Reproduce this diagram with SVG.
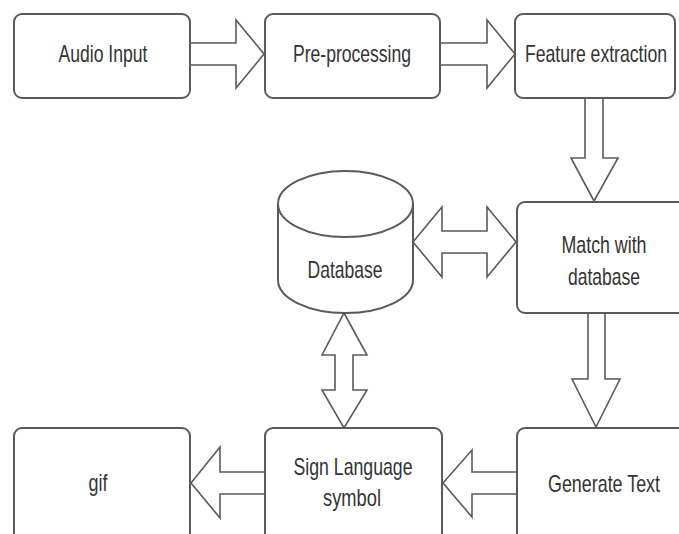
<svg xmlns="http://www.w3.org/2000/svg" width="679" height="534" viewBox="0 0 679 534">
  <style>
    .box { fill: #ffffff; stroke: #5a5a5a; stroke-width: 2; }
    .arrow { fill: #ffffff; stroke: #5a5a5a; stroke-width: 1.6; stroke-linejoin: miter; }
    .lbl { font-family: "Liberation Sans", Arial, sans-serif; font-size: 24px; fill: #333333; text-anchor: middle; }
  </style>
  <rect width="679" height="534" fill="#ffffff"/>

  <!-- connectors -->
  <g id="connectors">
    <polygon class="arrow" points="190,43 236,43 236,20 264,54 236,88 236,65 190,65"/>
    <polygon class="arrow" points="440,43 487,43 487,20 515,54 487,88 487,65 440,65"/>
    <polygon class="arrow" points="585,98 603,98 603,158 618,158 594,201 571,158 585,158"/>
    <polygon class="arrow" points="413,242 442,207 442,231 487,231 487,207 516,242 487,277 487,253 442,253 442,277"/>
    <polygon class="arrow" points="588,313 605,313 605,379 620,379 596,427 572,379 588,379"/>
    <polygon class="arrow" points="517,472 472,472 472,450 443,483 472,517 472,494 517,494"/>
    <polygon class="arrow" points="344,313 367,355 353,355 353,390 367,390 344,428 322,390 335,390 335,355 322,355"/>
    <polygon class="arrow" points="265,472 220,472 220,447 191,483 220,518 220,494 265,494"/>
  </g>

  <g id="audio-input">
    <rect class="box" x="14" y="14" width="176" height="84" rx="8"/>
    <text class="lbl" x="103" y="62" textLength="89" lengthAdjust="spacingAndGlyphs">Audio Input</text>
  </g>

  <g id="pre-processing">
    <rect class="box" x="265" y="14" width="175" height="84" rx="8"/>
    <text class="lbl" x="352" y="62" textLength="118" lengthAdjust="spacingAndGlyphs">Pre-processing</text>
  </g>

  <g id="feature-extraction">
    <rect class="box" x="515" y="14" width="160" height="84" rx="8"/>
    <text class="lbl" x="596" y="62" textLength="142" lengthAdjust="spacingAndGlyphs">Feature extraction</text>
  </g>

  <g id="match-database">
    <rect class="box" x="517" y="202" width="174" height="111" rx="8"/>
    <text class="lbl" x="604" y="253" textLength="85" lengthAdjust="spacingAndGlyphs">Match with</text>
    <text class="lbl" x="604" y="285" textLength="72" lengthAdjust="spacingAndGlyphs">database</text>
  </g>

  <g id="database">
    <path class="box" d="M278,204 L278,280 A67.5,33 0 0 0 413,280 L413,204"/>
    <ellipse class="box" cx="345.5" cy="204" rx="67.5" ry="33"/>
    <text class="lbl" x="345" y="278" textLength="75" lengthAdjust="spacingAndGlyphs">Database</text>
  </g>

  <g id="generate-text">
    <rect class="box" x="517" y="428" width="174" height="120" rx="8"/>
    <text class="lbl" x="604" y="492" textLength="112" lengthAdjust="spacingAndGlyphs">Generate Text</text>
  </g>

  <g id="sign-language">
    <rect class="box" x="265" y="428" width="177" height="120" rx="8"/>
    <text class="lbl" x="353" y="475" textLength="119" lengthAdjust="spacingAndGlyphs">Sign Language</text>
    <text class="lbl" x="352" y="506" textLength="58" lengthAdjust="spacingAndGlyphs">symbol</text>
  </g>

  <g id="gif">
    <rect class="box" x="14" y="428" width="176" height="120" rx="8"/>
    <text class="lbl" x="98" y="491" textLength="19" lengthAdjust="spacingAndGlyphs">gif</text>
  </g>
</svg>
